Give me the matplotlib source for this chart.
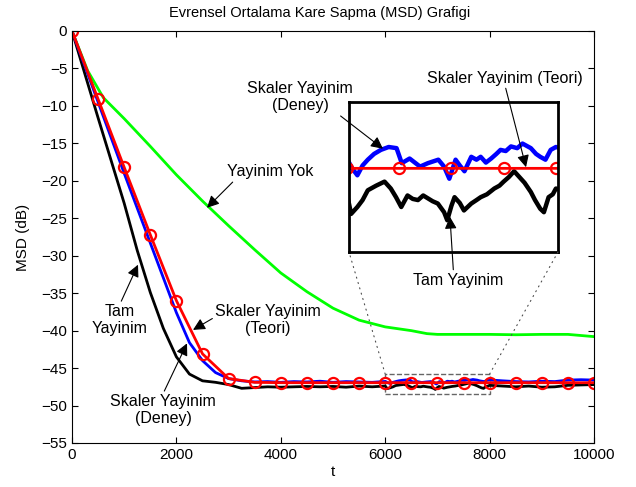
import numpy as np
import matplotlib
matplotlib.use('Agg')
import matplotlib.pyplot as plt
from matplotlib.patches import Rectangle, ConnectionPatch

plt.rcParams['font.family'] = ['Liberation Sans', 'DejaVu Sans']
plt.rcParams['font.size'] = 11

# Teori (red, markers every 500)
theory_t = [0, 500, 1000, 1500, 2000, 2500, 3000, 3500, 4000, 4500, 5000, 5500, 6000,
            6500, 7000, 7500, 8000, 8500, 9000, 9500, 10000]
theory_v = [0, -9.1, -18.2, -27.2, -36.0, -43.1, -46.4, -46.9, -46.95, -46.95, -46.95,
            -46.95, -46.95, -46.95, -46.95, -46.95, -46.95, -46.95, -46.95, -46.95, -46.95]

# Skaler Yayinim deney (blue)
blue_t = [0, 500, 1000, 1500, 2000, 2250, 2500, 2750, 3000, 3250, 3500, 3750, 4000, 4250,
          4500, 4750, 5000, 5250, 5500, 5750,
          6000, 6050, 6100, 6150, 6200, 6260, 6325, 6400, 6475, 6525, 6600, 6650, 6700,
          6775, 6875, 6930, 6980, 7040, 7080, 7125, 7190, 7240, 7280, 7330, 7380, 7430,
          7470, 7520, 7570, 7630, 7680, 7760, 7810, 7850, 7900, 7950, 8000,
          8250, 8500, 8750, 9000, 9250, 9500, 9750, 10000]
blue_v = [0, -9.5, -19.0, -28.3, -37.6, -41.6, -44.0, -45.6, -46.4, -46.7, -46.85, -46.8,
          -46.9, -46.8, -46.85, -46.75, -46.9, -46.8, -46.85, -46.9,
          -46.78, -46.95, -47.07, -46.9, -46.8, -46.7, -46.63, -46.58, -46.6, -46.86, -46.78,
          -46.85, -46.92, -46.86, -46.8, -46.92, -47.13, -46.8, -46.9, -47.0, -46.75, -46.8,
          -46.75, -46.85, -46.78, -46.7, -46.63, -46.65, -46.57, -46.6, -46.52, -46.6, -46.7,
          -46.75, -46.8, -46.63, -46.58,
          -46.7, -46.8, -46.85, -46.75, -46.8, -46.6, -46.55, -46.6]

# Tam Yayinim (black)
black_t = [0, 250, 500, 750, 1000, 1250, 1500, 1750, 2000, 2250, 2500, 2750, 3000, 3250,
           3500, 3750, 4000, 4250, 4500, 4750, 5000, 5250, 5500, 5750,
           6000, 6040, 6100, 6150, 6200, 6280, 6360, 6420, 6470, 6520, 6580, 6630, 6680,
           6730, 6775, 6820, 6870, 6930, 6960, 7000, 7030, 7080, 7120, 7190, 7240, 7280,
           7340, 7410, 7460, 7500, 7550, 7600, 7650, 7700, 7760, 7800, 7850, 7885, 7930,
           7970, 8000,
           8250, 8500, 8750, 9000, 9250, 9500, 9750, 10000]
black_v = [0, -5.8, -11.6, -17.3, -23.0, -29.3, -34.9, -39.7, -43.5, -45.8, -46.7, -46.9,
           -47.2, -47.7, -47.6, -47.5, -47.55, -47.5, -47.45, -47.5, -47.45, -47.55, -47.4,
           -47.5,
           -47.39, -47.74, -47.62, -47.5, -47.33, -47.25, -47.18, -47.3, -47.45, -47.62,
           -47.42, -47.48, -47.5, -47.42, -47.47, -47.52, -47.56, -47.71, -47.85, -47.6,
           -47.45, -47.55, -47.68, -47.56, -47.5, -47.45, -47.4, -47.3, -47.25, -47.18,
           -47.1, -47.0, -47.1, -47.2, -47.36, -47.5, -47.65, -47.71, -47.45, -47.4, -47.3,
           -47.4, -47.5, -47.4, -47.55, -47.5, -47.3, -47.25, -47.2]

# Yayinim Yok (green)
green_t = [0, 300, 600, 1000, 1500, 2000, 2500, 3000, 3500, 4000, 4500, 5000, 5500, 6000,
           6500, 6800, 7000, 7500, 8000, 8500, 9000, 9500, 10000]
green_v = [0, -5.3, -8.9, -11.7, -15.4, -19.2, -22.7, -26.0, -29.2, -32.3, -34.8, -37.0,
           -38.6, -39.5, -40.0, -40.4, -40.5, -40.5, -40.5, -40.55, -40.5, -40.5, -40.8]

W, H = 636, 487
fig = plt.figure(figsize=(W / 100, H / 100), dpi=100)
ax = fig.add_axes([72 / W, 1 - 443 / H, 522 / W, 412 / H])


def draw(a, lw_exp, lw_red):
    a.plot(green_t, green_v, color=(0, 1, 0), lw=2)
    a.plot(black_t, black_v, color='k', lw=lw_exp)
    a.plot(blue_t, blue_v, color='b', lw=lw_exp)
    a.plot(theory_t, theory_v, color='r', lw=lw_red, marker='o', ms=8,
           mfc='none', mec='r', mew=1.6)


draw(ax, 2, 2)
ax.set_xlim(0, 10000)
ax.set_ylim(-55, 0)
ax.set_xticks(np.arange(0, 10001, 2000))
ax.set_yticks(np.arange(-55, 1, 5))
ax.tick_params(direction='in', top=True, right=True, length=4, labelsize=11)
ax.set_xlabel('t', fontsize=11, labelpad=2)
ax.set_ylabel('MSD (dB)', fontsize=11, labelpad=8)
ax.set_title('Evrensel Ortalama Kare Sapma (MSD) Grafigi', fontsize=10.5, pad=10,
             x=0.475)

# zoom region
y_lo, y_hi = -48.4, -45.8
ax.add_patch(Rectangle((6000, y_lo), 2000, y_hi - y_lo, fill=False, ec='0.4',
                       ls='--', lw=1))

axin = fig.add_axes([349 / W, 1 - 252 / H, 209 / W, 150 / H])
draw(axin, 3.2, 2)
axin.set_xlim(6020, 8020)
axin.set_ylim(y_lo, y_hi)
axin.set_xticks([])
axin.set_yticks([])
for s in axin.spines.values():
    s.set_linewidth(2)

for xa, xb in [(6000, 0), (8000, 1)]:
    fig.add_artist(ConnectionPatch(xyA=(xa, y_hi), coordsA=ax.transData,
                                   xyB=(xb, 0), coordsB=axin.transAxes,
                                   ls=(0, (1, 4)), color='0.3', lw=0.8))

arr = dict(arrowstyle='-|>', color='k', lw=0.8, mutation_scale=18,
           shrinkA=0, shrinkB=0)


def fpx(px, py):
    return (px / W, 1 - py / H)


fs = 11.5
ax.annotate('Yayinim Yok', xy=(2586, -23.6), xytext=(3793, -18.8), fontsize=fs,
            ha='center', va='center', arrowprops=dict(arr, relpos=(0.1, 0)))
ax.annotate('Tam\nYayinim', xy=(1264, -31.2), xytext=(920, -38.6), fontsize=fs,
            ha='center', va='center', arrowprops=dict(arr, relpos=(0.5, 1)))
ax.annotate('Skaler Yayinim\n(Teori)', xy=(2318, -39.9), xytext=(3755, -38.6),
            fontsize=fs, ha='center', va='center',
            arrowprops=dict(arr, relpos=(0, 0.6)))
ax.annotate('Skaler Yayinim\n(Deney)', xy=(2203, -41.7), xytext=(1743, -50.6),
            fontsize=fs, ha='center', va='center',
            arrowprops=dict(arr, relpos=(0.5, 1)))

axin.annotate('Skaler Yayinim\n(Deney)', xy=(6345, -46.61), xytext=fpx(300, 97),
              textcoords='figure fraction', fontsize=fs, ha='center', va='center',
              annotation_clip=False, arrowprops=dict(arr, relpos=(0.85, 0)))
axin.annotate('Skaler Yayinim (Teori)', xy=(7714, -46.93), xytext=fpx(505, 78),
              textcoords='figure fraction', fontsize=fs, ha='center', va='center',
              annotation_clip=False, arrowprops=dict(arr, relpos=(0.5, 0)))
axin.annotate('Tam Yayinim', xy=(6986, -47.79), xytext=fpx(458, 280),
              textcoords='figure fraction', fontsize=fs, ha='center', va='center',
              annotation_clip=False, arrowprops=dict(arr, relpos=(0.45, 1)))

fig.savefig('out.png', dpi=100)
